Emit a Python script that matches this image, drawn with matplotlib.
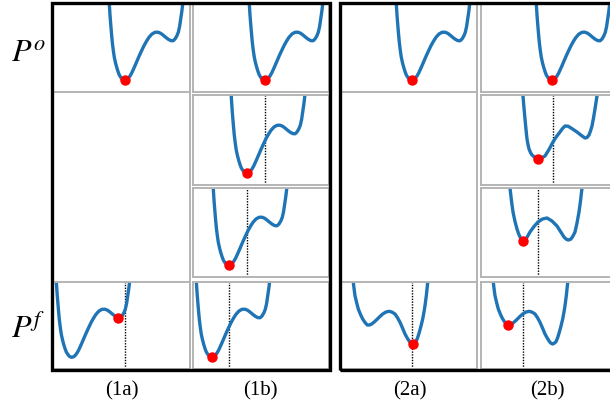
import matplotlib
matplotlib.use("Agg")
import matplotlib.pyplot as plt
from matplotlib.patches import Rectangle

plt.rcParams['mathtext.fontset'] = 'stix'

W, H = 610, 402
BLUE = '#1f74b6'
GRAY = '#b4b4b4'

# reference landscape P^o: x measured from its deep well, energy above cell floor
q_po = [-16.5, -15.7, -15.0, -14.3, -13.5, -12.7, -11.7, -10.7, -9.5, -8.3, -7.0,
        -5.7, -4.3, -3.0, -1.5, 0.0, 1.7, 3.3, 5.0, 6.7, 8.3, 10.0, 12.0, 14.3,
        16.7, 19.0, 21.5, 24.0, 27.0, 30.0, 33.0, 35.7, 38.2, 40.7, 43.3, 46.0,
        48.2, 50.0, 51.8, 53.3, 54.6, 55.7, 56.8, 57.7, 58.7]
v_po = [100, 88, 77, 68, 58.5, 49.7, 41.5, 34.7, 29.2, 24.7, 20.5,
        17, 14.8, 13, 12, 11.7, 12.3, 13.7, 16, 19, 22.5, 26.3, 31, 36.3,
        41.5, 46.3, 50.8, 54.7, 58, 59.7, 59.8, 58.7, 56.8, 54.7, 52.7, 51.3,
        51.3, 53, 56, 59.7, 65.5, 73, 80.5, 88, 100]

# right panel landscapes (x from cell left edge)
x_mid = [41, 42, 43, 44, 45, 46, 47, 48, 49.5, 51, 54, 57, 60.5, 64, 68, 72, 75.5,
         79, 81.5, 84, 87, 90, 93, 96, 100, 104, 106, 108, 109.5, 111, 112.5, 114,
         115, 116, 117]
v_mid = [100, 89, 77, 66, 55.5, 46, 40.5, 36, 32.5, 30, 27.5, 26, 27, 29, 35.5, 43,
         48.5, 53, 56.5, 59, 58.8, 57, 55, 53, 49.8, 47, 47.5, 50, 54, 59, 67, 76,
         82.5, 89, 100]

x_sym = [28, 29, 30.5, 32, 34, 36, 37.5, 39, 40.5, 42, 43.5, 45, 47, 49, 53, 57,
         61.5, 66, 71, 76, 79.5, 83, 85, 87, 88.5, 90, 92, 94, 96, 98, 99.5, 101, 102]
v_sym = [100, 89, 76, 65, 55.5, 48, 43.5, 40, 37.5, 36, 36.5, 38, 41.5, 45, 50.5, 55,
         58, 59, 56, 51, 45.5, 40, 38, 37, 37.3, 38, 41, 45, 54, 65, 76, 89, 100]

x_flip = [11.5, 12.3, 13.1, 14, 15.6, 17.3, 19.5, 21.7, 24, 26.3, 28.5, 30.7, 33.2,
          35.7, 38.7, 41.7, 45, 48.3, 51.2, 54, 56.5, 59, 61.5, 64, 66.5, 69, 70.4,
          71.7, 73.3, 75, 76.7, 78.3, 80, 81.7, 82.9, 84, 85.4, 86.7, 87.5]
v_flip = [100, 86.7, 80, 73.3, 66.5, 60, 54.5, 50, 46.5, 44, 44, 45, 47,
          49.3, 52.3, 55, 57, 57.7, 56.8, 55, 51.3, 46.7, 41, 35, 30.5, 26.7, 25.5,
          25, 25.8, 27.3, 31.5, 36.7, 43, 50, 56.5, 63.3, 74, 86.7, 100]

# deep-well position of P^o landscape
well_1b = [72, 54, 36, 19]
well_1a = [72, 19]
well_right = 71

# current state (red dot) and previous state (dotted line)
dot_1a = [(72, 11.7), (65, 51)]
dot_1b = [(72, 11.7), (54, 12), (36, 12), (19, 12)]
ref_1a = [None, 72]
ref_1b = [None, 72, 54, 36]
dot_2a = [(71, 12), (71.7, 25)]
dot_2b = [(71, 12), (57, 26), (42, 36), (27, 44)]
ref_2a = [None, 71]
ref_2b = [None, 72, 57, 42]

row_labels = [r'$P^o$', r'$P^f$']
col_labels = ['(1a)', '(1b)', '(2a)', '(2b)']

fig = plt.figure(figsize=(W / 100, H / 100), dpi=100)

rows = [(5, 93), (96, 186), (189, 278), (283, 370)]
cols = [(53, 190), (193, 329), (341, 477), (481, 617)]


def cell(c, r):
    x0, x1 = cols[c]
    y0, y1 = rows[r]
    ax = fig.add_axes([x0 / W, 1 - y1 / H, (x1 - x0) / W, (y1 - y0) / H])
    ax.set_xlim(0, x1 - x0)
    ax.set_ylim(0, y1 - y0)
    ax.set_xticks([])
    ax.set_yticks([])
    for s in ax.spines.values():
        s.set_color(GRAY)
        s.set_linewidth(1.4)
    return ax


def landscape(ax, x, v, dot, ref=None):
    if ref is not None:
        ax.axvline(ref, color='k', ls=(0, (1, 1)), lw=1)
    ax.plot(x, v, color=BLUE, lw=2.4, solid_joinstyle='round', solid_capstyle='round')
    ax.plot(dot[0], dot[1], 'o', color='red', ms=6.5, zorder=3)


def shifted(w):
    return [q + w for q in q_po]


# column frames for the (a) columns
for c in (0, 2):
    x0, x1 = cols[c]
    fig.add_artist(Rectangle((x0 / W, 1 - 370 / H), (x1 - x0) / W, 365 / H,
                             transform=fig.transFigure, fill=False, ec=GRAY, lw=1.4))

# left panel
for i, r in enumerate([0, 3]):
    landscape(cell(0, r), shifted(well_1a[i]), v_po, dot_1a[i], ref_1a[i])
for r in range(4):
    landscape(cell(1, r), shifted(well_1b[r]), v_po, dot_1b[r], ref_1b[r])

# right panel
landscape(cell(2, 0), shifted(well_right), v_po, dot_2a[0], ref_2a[0])
landscape(cell(2, 3), x_flip, v_flip, dot_2a[1], ref_2a[1])
landscape(cell(3, 0), shifted(well_right), v_po, dot_2b[0], ref_2b[0])
landscape(cell(3, 1), x_mid, v_mid, dot_2b[1], ref_2b[1])
landscape(cell(3, 2), x_sym, v_sym, dot_2b[2], ref_2b[2])
landscape(cell(3, 3), x_flip, v_flip, dot_2b[3], ref_2b[3])

# thick panel borders
for x0, x1 in [(51.5, 330), (339.5, 660)]:
    fig.add_artist(Rectangle((x0 / W, 1 - 371 / H), (x1 - x0) / W, 367.5 / H,
                             transform=fig.transFigure, fill=False, ec='k', lw=2.4,
                             zorder=10))

fig.text(11 / W, 1 - 62 / H, row_labels[0], fontsize=23, ha='left', va='baseline')
fig.text(11 / W, 1 - 338 / H, row_labels[1], fontsize=23, ha='left', va='baseline')

for x, lab in zip([122, 260, 410, 547], col_labels):
    fig.text(x / W, 1 - 395 / H, lab, fontsize=15, family='Liberation Serif',
             ha='center', va='baseline')

fig.savefig('out.png', dpi=100)
